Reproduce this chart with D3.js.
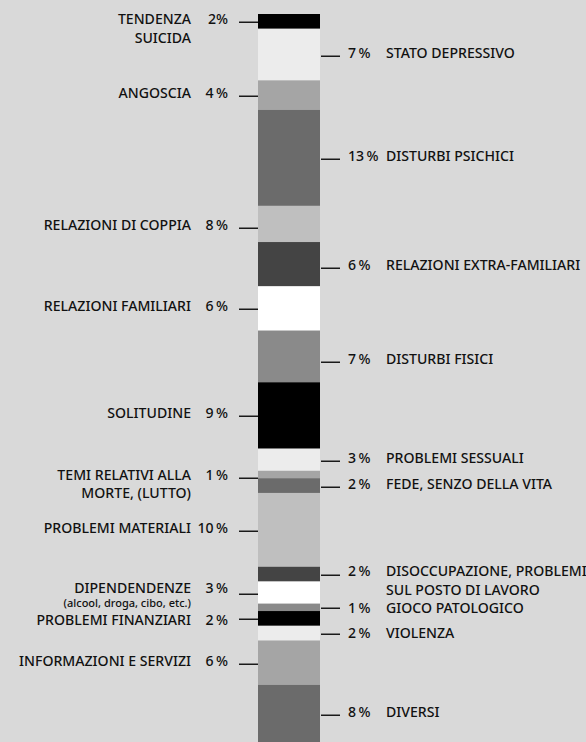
<!DOCTYPE html>
<html><head><meta charset="utf-8">
<script src="https://cdn.jsdelivr.net/npm/d3@7"></script>
<style>
html,body{margin:0;padding:0;background:#d9d9d9;}
svg{display:block;}
text{font-family:"Noto Sans","Open Sans",sans-serif;fill:#111;font-weight:500;}
</style></head><body>
<svg id="chart" width="586" height="742"></svg>
<script>
// ---- data (top to bottom) ----
const categories = [
  "TENDENZA\nSUICIDA", "STATO DEPRESSIVO", "ANGOSCIA", "DISTURBI PSICHICI",
  "RELAZIONI DI COPPIA", "RELAZIONI EXTRA-FAMILIARI", "RELAZIONI FAMILIARI", "DISTURBI FISICI",
  "SOLITUDINE", "PROBLEMI SESSUALI", "TEMI RELATIVI ALLA\nMORTE, (LUTTO)", "FEDE, SENZO DELLA VITA",
  "PROBLEMI MATERIALI", "DISOCCUPAZIONE, PROBLEMI\nSUL POSTO DI LAVORO", "DIPENDENDENZE", "GIOCO PATOLOGICO",
  "PROBLEMI FINANZIARI", "VIOLENZA", "INFORMAZIONI E SERVIZI", "DIVERSI"
];
const subLabels = {14: "(alcool, droga, cibo, etc.)"};
const percents = [2, 7, 4, 13, 8, 6, 6, 7, 9, 3, 1, 2, 10, 2, 3, 1, 2, 2, 6, 8];
const pctText = ["2%", "7\u2009%", "4\u2009%", "13\u2009%", "8\u2009%", "6\u2009%", "6\u2009%", "7\u2009%",
  "9\u2009%", "3\u2009%", "1\u2009%", "2\u2009%", "10\u2009%", "2\u2009%", "3\u2009%", "1\u2009%",
  "2\u2009%", "2\u2009%", "6\u2009%", "8\u2009%"];
// segment sizes as drawn in the bar (same as percents except "relazioni di coppia")
const barShares = [2, 7, 4, 13, 4.9, 6, 6, 7, 9, 3, 1, 2, 10, 2, 3, 1, 2, 2, 6, 8];
const sides = ["L","R","L","R","L","R","L","R","L","R","L","R","L","R","L","R","L","R","L","R"];
const shadeCycle = ["#000000", "#ececec", "#a5a5a5", "#6b6b6b", "#bfbfbf", "#444444", "#ffffff", "#8a8a8a"];

// ---- layout ----
const svg = d3.select("#chart");
const W = 586, H = 742;
const barX0 = 258, barX1 = 320, barTop = 14, pxPerUnit = 7.38;
const total = d3.sum(barShares);
const y = d3.scaleLinear().domain([0, total]).range([barTop, barTop + total * pxPerUnit]);
const color = d3.scaleOrdinal().domain(d3.range(8)).range(shadeCycle);

let acc = 0;
const segs = barShares.map((v, i) => {
  const s = {i, y0: acc, y1: acc + v};
  acc += v;
  return s;
});

svg.append("rect").attr("width", W).attr("height", H).attr("fill", "#d9d9d9");

svg.append("g").selectAll("rect").data(segs).join("rect")
  .attr("x", barX0).attr("width", barX1 - barX0)
  .attr("y", d => y(d.y0))
  .attr("height", d => y(d.y1) - y(d.y0))
  .attr("fill", d => color(d.i % 8));

// small hand nudges of leader lines / texts relative to segment middles
const lineNudge = {4: 3, 5: 3, 7: 5, 10: 2};
const textNudge = {13: -1, 14: -3.5, 15: 2.5, 16: 3.5, 17: 2};
const lineH = {0: 18.5, 10: 18, 13: 18.5};
const FS = 14.1;

const g = svg.append("g");
segs.forEach(d => {
  const i = d.i;
  const ly = Math.round((y(d.y0) + y(d.y1)) / 2 + 1 + (lineNudge[i] || 0)) + 0.25;
  const ty = ly + 1.8 + (textNudge[i] || 0);
  const left = sides[i] === "L";
  g.append("line")
    .attr("x1", left ? 239 : 321).attr("x2", left ? 258 : 340)
    .attr("y1", ly).attr("y2", ly)
    .attr("stroke", "#1a1a1a").attr("stroke-width", 1.5);
  g.append("text")
    .attr("x", left ? 228 : 348).attr("y", ty)
    .attr("text-anchor", left ? "end" : "start")
    .attr("font-size", FS)
    .text(pctText[i]);
  const lines = categories[i].split("\n");
  lines.forEach((ln, k) => {
    g.append("text")
      .attr("x", left ? 191 : 386)
      .attr("y", ty + k * (lineH[i] || 17.5))
      .attr("text-anchor", left ? "end" : "start")
      .attr("font-size", FS)
      .text(ln);
  });
  if (subLabels[i]) {
    g.append("text")
      .attr("x", 191).attr("y", ty + 14.5)
      .attr("text-anchor", "end")
      .attr("font-size", 11)
      .text(subLabels[i]);
  }
});
</script>
</body></html>
